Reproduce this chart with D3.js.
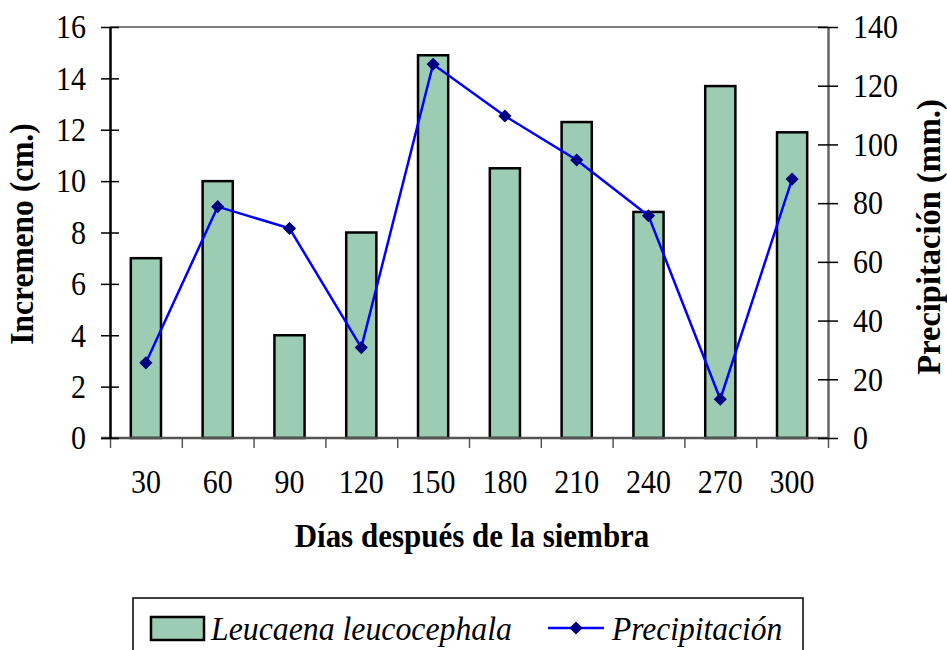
<!DOCTYPE html>
<html>
<head>
<meta charset="utf-8">
<script src="https://cdn.jsdelivr.net/npm/d3@7"></script>
<style>
  body { margin: 0; background: #fff; }
  svg { display: block; }
  svg text { font-family: "Liberation Serif", Tinos, "Times New Roman", "DejaVu Serif", serif; }
</style>
</head>
<body>
<svg id="chart"></svg>
<script>
// Data
const dias = ['30', '60', '90', '120', '150', '180', '210', '240', '270', '300'];
const incremento = [7, 10, 4, 8, 14.9, 10.5, 12.3, 8.8, 13.7, 11.9];
const precipitacion = [25.6, 78.8, 71.4, 30.8, 127.3, 109.7, 94.7, 75.7, 13.2, 88.2];
const leftTicks = [0, 2, 4, 6, 8, 10, 12, 14, 16];
const rightTicks = [0, 20, 40, 60, 80, 100, 120, 140];

class BarLineChart {

    constructor(_config) {
        this.config = {
            parentElement: _config.parentElement,
            containerWidth: _config.containerWidth || 947,
            containerHeight: _config.containerHeight || 650,
            margin: _config.margin || { top: 27, right: 119, bottom: 212, left: 110 }
        };
        this.initVis();
    }

    initVis() {
        let vis = this;

        vis.width = vis.config.containerWidth - vis.config.margin.left - vis.config.margin.right;
        vis.height = vis.config.containerHeight - vis.config.margin.top - vis.config.margin.bottom;

        vis.xScale = d3.scaleBand()
            .domain(dias)
            .range([0, vis.width])
            .paddingInner(0.58)
            .paddingOuter(0.29);

        // boundary ticks between categories
        vis.xEdge = d3.scaleLinear()
            .domain([0, dias.length])
            .range([0, vis.width]);

        vis.yLeft = d3.scaleLinear()
            .domain([0, 16])
            .range([vis.height, 0]);

        vis.yRight = d3.scaleLinear()
            .domain([0, 140])
            .range([vis.height, 0]);

        vis.svg = d3.select(vis.config.parentElement)
            .attr('width', vis.config.containerWidth)
            .attr('height', vis.config.containerHeight);

        vis.chart = vis.svg.append('g')
            .attr('transform', `translate(${vis.config.margin.left},${vis.config.margin.top})`);

        // top border of plot area
        vis.chart.append('line')
            .attr('x1', 0).attr('x2', vis.width)
            .attr('y1', 0).attr('y2', 0)
            .attr('stroke', '#808080')
            .attr('stroke-width', 2);

        vis.renderVis();
    }

    renderVis() {
        let vis = this;

        // bars
        vis.chart.selectAll('.bar')
            .data(incremento)
            .join('rect')
            .attr('class', 'bar')
            .attr('x', (d, i) => vis.xScale(dias[i]))
            .attr('y', d => vis.yLeft(d))
            .attr('width', vis.xScale.bandwidth())
            .attr('height', d => vis.height - vis.yLeft(d))
            .attr('fill', '#9ccdb4')
            .attr('stroke', '#000')
            .attr('stroke-width', 2.5);

        // x axis: edge ticks
        let xEdgeAxis = d3.axisBottom(vis.xEdge)
            .ticks(dias.length)
            .tickSizeInner(10)
            .tickSizeOuter(0)
            .tickFormat('');
        let xEdgeG = vis.chart.append('g')
            .attr('transform', `translate(0,${vis.height})`)
            .call(xEdgeAxis);
        xEdgeG.select('.domain').remove();
        xEdgeG.selectAll('.tick line').attr('stroke', '#555').attr('stroke-width', 1.5);

        // x axis baseline
        vis.chart.append('line')
            .attr('x1', -9).attr('x2', vis.width)
            .attr('y1', vis.height).attr('y2', vis.height)
            .attr('stroke', '#555')
            .attr('stroke-width', 2.5);

        // x axis labels (slightly tall glyphs, like the original)
        let xAxis = d3.axisBottom(vis.xScale)
            .tickSize(0)
            .tickPadding(28);
        let xAxisG = vis.chart.append('g')
            .attr('transform', `translate(0,${vis.height})`)
            .call(xAxis);
        xAxisG.select('.domain').remove();
        xAxisG.attr('font-family', null).attr('font-size', 30);
        xAxisG.selectAll('text').attr('fill', '#000').attr('transform', 'scale(1,1.12)');

        // left axis
        let yLeftAxis = d3.axisLeft(vis.yLeft)
            .tickValues(leftTicks)
            .tickSizeOuter(0)
            .tickSizeInner(9)
            .tickPadding(15);
        let yLeftG = vis.chart.append('g').call(yLeftAxis);
        yLeftG.attr('font-family', null).attr('font-size', 30);
        yLeftG.select('.domain').attr('stroke', '#000').attr('stroke-width', 2.5);
        yLeftG.selectAll('.tick line').attr('x1', 9).attr('stroke', '#000').attr('stroke-width', 1.5);
        yLeftG.selectAll('text').attr('fill', '#000').attr('transform', 'scale(1,1.12)');

        // right axis
        let yRightAxis = d3.axisRight(vis.yRight)
            .tickValues(rightTicks)
            .tickSizeOuter(0)
            .tickSizeInner(10)
            .tickPadding(15);
        let yRightG = vis.chart.append('g')
            .attr('transform', `translate(${vis.width},0)`)
            .call(yRightAxis);
        yRightG.attr('font-family', null).attr('font-size', 30);
        yRightG.select('.domain').attr('stroke', '#666').attr('stroke-width', 2.5);
        yRightG.selectAll('.tick line').attr('x1', -10).attr('stroke', '#000').attr('stroke-width', 1.5);
        yRightG.selectAll('text').attr('fill', '#000').attr('transform', 'scale(1,1.12)');

        // precipitation line
        let cx = i => vis.xScale(dias[i]) + vis.xScale.bandwidth() / 2;
        let line = d3.line()
            .x((d, i) => cx(i))
            .y(d => vis.yRight(d));

        vis.chart.append('path')
            .datum(precipitacion)
            .attr('d', line)
            .attr('fill', 'none')
            .attr('stroke', '#0000ff')
            .attr('stroke-width', 2.5);

        vis.chart.selectAll('.marker')
            .data(precipitacion)
            .join('path')
            .attr('class', 'marker')
            .attr('d', d3.symbol(d3.symbolDiamond2, 110))
            .attr('transform', (d, i) => `translate(${cx(i)},${vis.yRight(d)})`)
            .attr('fill', '#000080');

        // axis titles
        vis.svg.append('text')
            .attr('transform', 'translate(472,547) scale(1,1.06)')
            .attr('text-anchor', 'middle')
            .attr('font-weight', 'bold')
            .attr('font-size', 31)
            .text('Días después de la siembra');

        vis.svg.append('text')
            .attr('transform', 'translate(33,234) rotate(-90) scale(1,1.06)')
            .attr('text-anchor', 'middle')
            .attr('font-weight', 'bold')
            .attr('font-size', 31.5)
            .text('Incremeno (cm.)');

        vis.svg.append('text')
            .attr('transform', 'translate(940,237) rotate(-90) scale(1,1.06)')
            .attr('text-anchor', 'middle')
            .attr('font-weight', 'bold')
            .attr('font-size', 32.5)
            .text('Precipitación (mm.)');

        // legend
        let legend = vis.svg.append('g');
        legend.append('rect')
            .attr('x', 133).attr('y', 598)
            .attr('width', 670).attr('height', 60)
            .attr('fill', '#fff')
            .attr('stroke', '#000')
            .attr('stroke-width', 1.5);
        legend.append('rect')
            .attr('x', 151).attr('y', 617)
            .attr('width', 53).attr('height', 23)
            .attr('fill', '#9ccdb4')
            .attr('stroke', '#000')
            .attr('stroke-width', 2.5);
        legend.append('text')
            .attr('transform', 'translate(211,640) scale(1,1.08)')
            .attr('font-style', 'italic')
            .attr('font-size', 31.8)
            .text('Leucaena leucocephala');
        legend.append('line')
            .attr('x1', 548).attr('x2', 604)
            .attr('y1', 628).attr('y2', 628)
            .attr('stroke', '#0000ff')
            .attr('stroke-width', 2.5);
        legend.append('path')
            .attr('d', d3.symbol(d3.symbolDiamond2, 110))
            .attr('transform', 'translate(576,628)')
            .attr('fill', '#000080');
        legend.append('text')
            .attr('transform', 'translate(612,640) scale(1,1.08)')
            .attr('font-style', 'italic')
            .attr('font-size', 31.5)
            .text('Precipitación');
    }
}

new BarLineChart({ parentElement: '#chart' });
</script>
</body>
</html>
